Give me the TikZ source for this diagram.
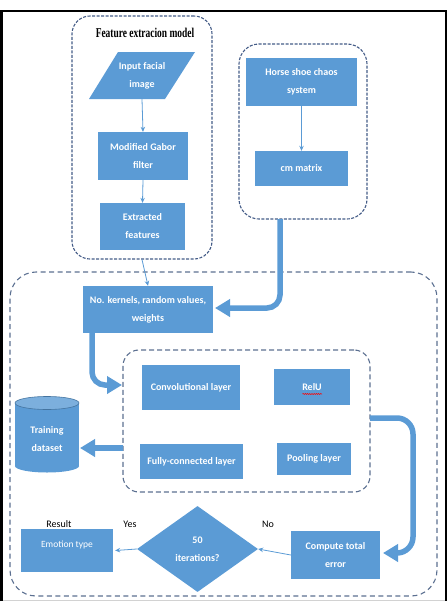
\documentclass[tikz,border=0pt]{standalone}
\usepackage{fontspec}
\setmainfont{Carlito}
\newfontfamily\titlefont{Liberation Serif}
\usepackage{graphicx}
\usetikzlibrary{arrows.meta,shapes.geometric,decorations.pathmorphing}
\definecolor{boxblue}{RGB}{91,155,213}
\definecolor{dashblue}{RGB}{68,92,135}
\definecolor{dashgray}{RGB}{92,112,145}
\begin{document}
\begin{tikzpicture}[x=1pt,y=-1pt,
  box/.style={fill=boxblue, text=white, font=\fontsize{10}{18}\selectfont\bfseries, align=center, inner sep=0pt},
  plain/.style={text=white, font=\fontsize{10}{18}\selectfont\bfseries, align=center, inner sep=0pt},
  grp/.style={draw=dashblue, line width=1.1pt, dash pattern=on 3pt off 1.5pt, rounded corners=18pt, inner sep=0pt},
  thinarrow/.style={draw=boxblue, line width=0.8pt, -{Stealth[length=5pt,width=4.5pt]}},
  bigarrow/.style={draw=boxblue, line width=5.5pt, -{Triangle[length=15pt,width=17pt]}},
  lab/.style={text=black, font=\fontsize{10}{12}\selectfont, inner sep=0pt}]
\useasboundingbox (0,0) rectangle (447,603);
% frame
\draw[gray!35, line width=1pt] (0,600.5) -- (447,600.5);
\draw[black, line width=2.6pt] (1.3,601) -- (1.3,11) -- (445.8,11) -- (445.8,601);

% groups
\node[grp, minimum width=140pt, minimum height=243pt] (feat) at (142,137.5) {};
\node[grp, rounded corners=20pt, minimum width=128pt, minimum height=175pt] (hgrp) at (303,131.5) {};
\node[grp, draw=dashgray, line width=1.1pt, dash pattern=on 5pt off 3.5pt, rounded corners=26pt, minimum width=427pt, minimum height=324pt] (main) at (223.5,434) {};
\node[grp, draw=dashgray, dash pattern=on 5pt off 3pt, rounded corners=16pt, minimum width=247pt, minimum height=142pt] (inner) at (246.5,421) {};

% title
\node[inner sep=0pt, font=\titlefont\bfseries\fontsize{13.5}{14}\selectfont] (title) at (145,33) {\scalebox{0.7}[1]{Feature extracion model}};

% feature extraction
\fill[boxblue] (118,52) -- (195,52) -- (165,99) -- (89,99) -- cycle;
\node[plain, minimum width=77pt, minimum height=47pt] (input) at (142,75.5) {Input facial\\image};
\node[box, minimum width=90pt, minimum height=48pt] (gabor) at (143,156) {Modified Gabor\\filter};
\node[box, minimum width=85pt, minimum height=47pt] (extr) at (142.5,226.5) {Extracted\\features};

% horse shoe
\node[box, minimum width=111pt, minimum height=48pt] (horse) at (301.5,82) {Horse shoe chaos\\system};
\node[box, minimum width=93pt, minimum height=35pt] (cm) at (301.5,168.5) {cm matrix};

% main
\node[box, minimum width=130pt, minimum height=47pt] (kern) at (148,309.5) {No. kernels, random values,\\weights};
\node[box, minimum width=98pt, minimum height=45pt] (conv) at (191,387.5) {Convolutional layer};
\node[box, minimum width=76pt, minimum height=36pt] (relu) at (312,387) {RelU};
\draw[red, line width=0.5pt, decorate, decoration={snake, amplitude=0.6pt, segment length=2.2pt}] (302.5,394) -- (322,394);
\node[box, minimum width=103pt, minimum height=35pt] (fully) at (191.5,461.5) {Fully-connected layer};
\node[box, minimum width=74pt, minimum height=32pt] (pool) at (314,459) {Pooling layer};

% cylinder
\fill[boxblue] (15,403) rectangle (79,466);
\fill[boxblue] (47,466) ellipse [x radius=32, y radius=6.5];
\filldraw[fill=boxblue!80!white, draw=boxblue!75!black, line width=0.6pt] (47,403) ellipse [x radius=32, y radius=6.5];
\node[plain, minimum width=64pt, minimum height=60pt] (train) at (47,439) {Training\\dataset};

\node[box, minimum width=89pt, minimum height=48pt] (total) at (335.5,555) {Compute total\\error};
\node[box, diamond, minimum width=121pt, minimum height=86pt] (iter) at (197.5,549) {50\\iterations?};
\node[box, font=\fontsize{9.5}{12}\selectfont, minimum width=92pt, minimum height=43pt, anchor=center] (emo) at (67,550.5) {};
\node[text=white, font=\fontsize{9.5}{12}\selectfont, inner sep=0pt] (emotxt) at (67,545) {Emotion type};

% labels
\node[lab] (res) at (59,524) {Result};
\node[lab] (yes) at (130,524) {Yes};
\node[lab] (no) at (268,524) {No};

% thin arrows
\draw[thinarrow] (input.south) -- (gabor.north);
\draw[thinarrow] (gabor.south) -- (extr.north);
\draw[thinarrow] (horse.south) -- (cm.north);
\draw[thinarrow] (feat.south) -- (kern.north);
\draw[thinarrow] (total.west) -- (iter.east);
\draw[thinarrow] (iter.west) -- ([xshift=2pt]emo.east);

% big arrows
\coordinate (hs) at (280,219);
\coordinate (kin) at (215,308);
\draw[bigarrow, rounded corners=13pt] (hs) -- (280,308) -- (kin);
\coordinate (ks) at (92,333);
\coordinate (iin) at (122,385);
\draw[bigarrow, rounded corners=13pt] (ks) -- (92,385) -- (iin);
\coordinate (iout) at (123,448);
\coordinate (tin) at (80,448);
\draw[bigarrow] (iout) -- (tin);
\coordinate (rout) at (370,418);
\coordinate (tot) at (383,553);
\draw[bigarrow, rounded corners=16pt] (rout) -- (413,418) -- (413,553) -- (tot);
\end{tikzpicture}
\end{document}
